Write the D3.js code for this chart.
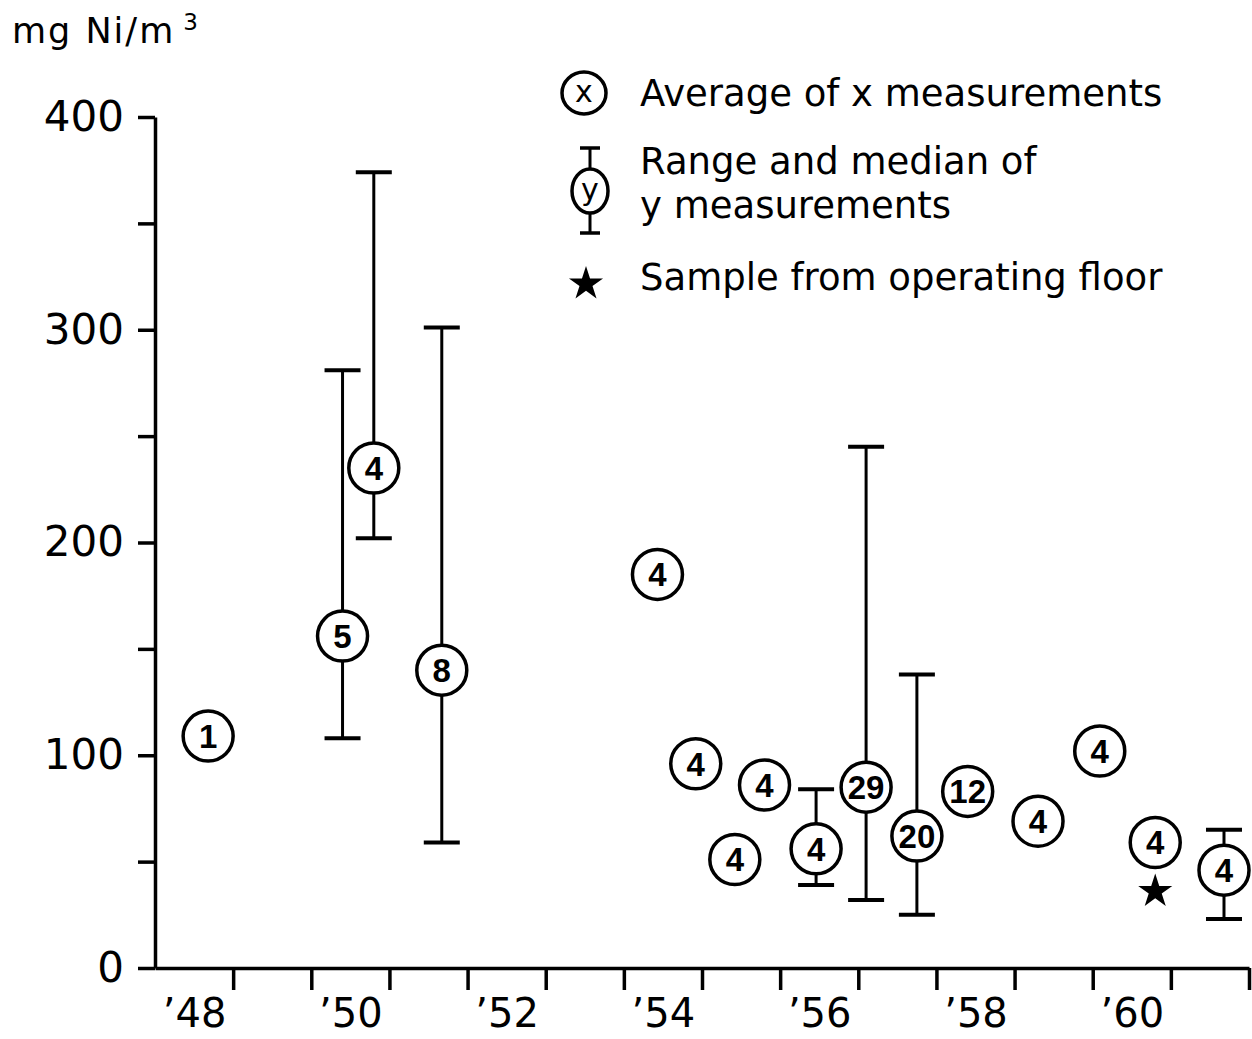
<!DOCTYPE html>
<meta charset='utf-8'>
<style type='text/css'>
body { margin: 0; background: #fff; }
svg text { font-family: 'DejaVu Sans', sans-serif; fill: #000; }
.count { font-family: 'Liberation Sans', Arial, sans-serif; font-weight: bold; font-size: 33px; }
.legend text { font-size: 37px; }
</style>
<div id='chart'></div>
<script src='https://d3js.org/d3.v7.min.js'></script>
<script>

  // single averages: circled number = how many measurements
  var avgYear  = [1948.68, 1954.43, 1954.92, 1955.42, 1955.80, 1958.40, 1959.30, 1960.09, 1960.80];
  var avgValue = [109, 185, 96, 51, 86, 83, 69, 102, 59];
  var avgCount = [1, 4, 4, 4, 4, 12, 4, 4, 4];

  // range and median
  var rangeYear   = [1950.40, 1950.80, 1951.67, 1956.46, 1957.10, 1957.75, 1961.68];
  var rangeMedian = [156, 235, 140, 56, 85, 62, 46];
  var rangeLow    = [108, 202, 59, 39, 32, 25, 23];
  var rangeHigh   = [281, 374, 301, 84, 245, 138, 65];
  var rangeCount  = [5, 4, 8, 4, 29, 20, 4];

  // sample from operating floor
  var starYear  = [1960.80];
  var starValue = [36];

  var yTicks = [0, 50, 100, 150, 200, 250, 300, 350, 400];
  var yearTicks = d3.range(1949, 1963);
  var yearLabels = [1948, 1950, 1952, 1954, 1956, 1958, 1960];

  var width = 1252, height = 1039;

  var svg = d3.select('#chart')
    .append('svg')
      .attr('width', width)
      .attr('height', height);

  var x = d3.scaleLinear().domain([1948, 1962]).range([155, 1249]);
  var y = d3.scaleLinear().domain([0, 400]).range([968, 117]);

  // y axis
  var yAxis = svg.append('g')
    .attr('transform', 'translate(' + x(1948) + ',0)')
    .call(d3.axisLeft(y)
      .tickValues(yTicks)
      .tickSize(17)
      .tickSizeOuter(0)
      .tickPadding(14)
      .tickFormat(function(d) { return d % 100 === 0 ? d : ''; }));
  yAxis.selectAll('path, line').attr('stroke', '#000').attr('stroke-width', 3.5);
  yAxis.selectAll('text').attr('font-family', 'DejaVu Sans').attr('font-size', 42);

  // x axis (ticks at year boundaries)
  var xAxis = svg.append('g')
    .attr('transform', 'translate(0,' + y(0) + ')')
    .call(d3.axisBottom(x)
      .tickValues(yearTicks)
      .tickSize(22)
      .tickSizeOuter(0)
      .tickFormat(''));
  xAxis.selectAll('path, line').attr('stroke', '#000').attr('stroke-width', 3.5);

  // year labels centred in the year
  var xLabels = svg.append('g')
    .attr('transform', 'translate(0,' + y(0) + ')')
    .call(d3.axisBottom(x)
      .tickValues(yearLabels.map(function(d) { return d + 0.5; }))
      .tickSize(0)
      .tickPadding(31)
      .tickFormat(function(d) { return '\u2019' + String(Math.floor(d)).slice(2); }));
  xLabels.select('.domain').remove();
  xLabels.selectAll('text').attr('font-family', 'DejaVu Sans').attr('font-size', 40);

  // unit label
  var unit = svg.append('text')
    .attr('x', 12)
    .attr('y', 43)
    .attr('font-size', 35)
    .attr('letter-spacing', 2)
    .text('mg Ni/m');
  unit.append('tspan')
    .attr('dx', 8)
    .attr('dy', -13)
    .attr('font-size', 23)
    .attr('letter-spacing', 0)
    .text('3');

  // range bars
  var ranges = rangeYear.map(function(d, i) {
    return {year: d, median: rangeMedian[i], lo: rangeLow[i], hi: rangeHigh[i], n: rangeCount[i]};
  });
  var bars = svg.append('g').selectAll('g')
    .data(ranges)
    .enter()
    .append('g');
  bars.append('line')
    .attr('x1', function(d) { return x(d.year); })
    .attr('x2', function(d) { return x(d.year); })
    .attr('y1', function(d) { return y(d.lo); })
    .attr('y2', function(d) { return y(d.hi); })
    .attr('stroke', '#000')
    .attr('stroke-width', 3);
  ['lo', 'hi'].forEach(function(k) {
    bars.append('line')
      .attr('x1', function(d) { return x(d.year) - 18; })
      .attr('x2', function(d) { return x(d.year) + 18; })
      .attr('y1', function(d) { return y(d[k]); })
      .attr('y2', function(d) { return y(d[k]); })
      .attr('stroke', '#000')
      .attr('stroke-width', 4);
  });

  // circled counts
  var circled = ranges.map(function(d) { return {year: d.year, value: d.median, n: d.n}; })
    .concat(avgYear.map(function(d, i) { return {year: d, value: avgValue[i], n: avgCount[i]}; }));

  var marks = svg.append('g').selectAll('g')
    .data(circled)
    .enter()
    .append('g')
      .attr('transform', function(d) { return 'translate(' + x(d.year) + ',' + y(d.value) + ')'; });
  marks.append('circle')
    .attr('r', 25)
    .attr('fill', '#fff')
    .attr('stroke', '#000')
    .attr('stroke-width', 3.5);
  marks.append('text')
    .attr('class', 'count')
    .attr('text-anchor', 'middle')
    .attr('dy', '0.36em')
    .text(function(d) { return d.n; });

  // star
  svg.append('g').selectAll('path')
    .data(starYear.map(function(d, i) { return {year: d, value: starValue[i]}; }))
    .enter()
    .append('path')
      .attr('transform', function(d) { return 'translate(' + x(d.year) + ',' + y(d.value) + ')'; })
      .attr('d', d3.symbol().type(d3.symbolStar).size(360))
      .attr('fill', '#000');

  // legend
  var legend = svg.append('g').attr('class', 'legend');
  legend.append('ellipse')
    .attr('cx', 584).attr('cy', 93).attr('rx', 22).attr('ry', 21)
    .attr('fill', '#fff').attr('stroke', '#000').attr('stroke-width', 3.5);
  legend.append('text')
    .attr('x', 584).attr('y', 93).attr('dy', '0.3em')
    .attr('text-anchor', 'middle').style('font-size', '30px')
    .text('x');
  legend.append('text').attr('x', 640).attr('y', 106).text('Average of x measurements');

  legend.append('line')
    .attr('x1', 590).attr('x2', 590).attr('y1', 148).attr('y2', 233)
    .attr('stroke', '#000').attr('stroke-width', 3);
  [148, 233].forEach(function(v) {
    legend.append('line')
      .attr('x1', 580).attr('x2', 600).attr('y1', v).attr('y2', v)
      .attr('stroke', '#000').attr('stroke-width', 3.5);
  });
  legend.append('ellipse')
    .attr('cx', 590).attr('cy', 191).attr('rx', 18).attr('ry', 22)
    .attr('fill', '#fff').attr('stroke', '#000').attr('stroke-width', 3.5);
  legend.append('text')
    .attr('x', 590).attr('y', 191).attr('dy', '0.3em')
    .attr('text-anchor', 'middle').style('font-size', '30px')
    .text('y');
  legend.append('text').attr('x', 640).attr('y', 174).text('Range and median of');
  legend.append('text').attr('x', 640).attr('y', 218).text('y measurements');

  legend.append('path')
    .attr('transform', 'translate(586,284)')
    .attr('d', d3.symbol().type(d3.symbolStar).size(360))
    .attr('fill', '#000');
  legend.append('text').attr('x', 640).attr('y', 290).text('Sample from operating floor');

</script>
